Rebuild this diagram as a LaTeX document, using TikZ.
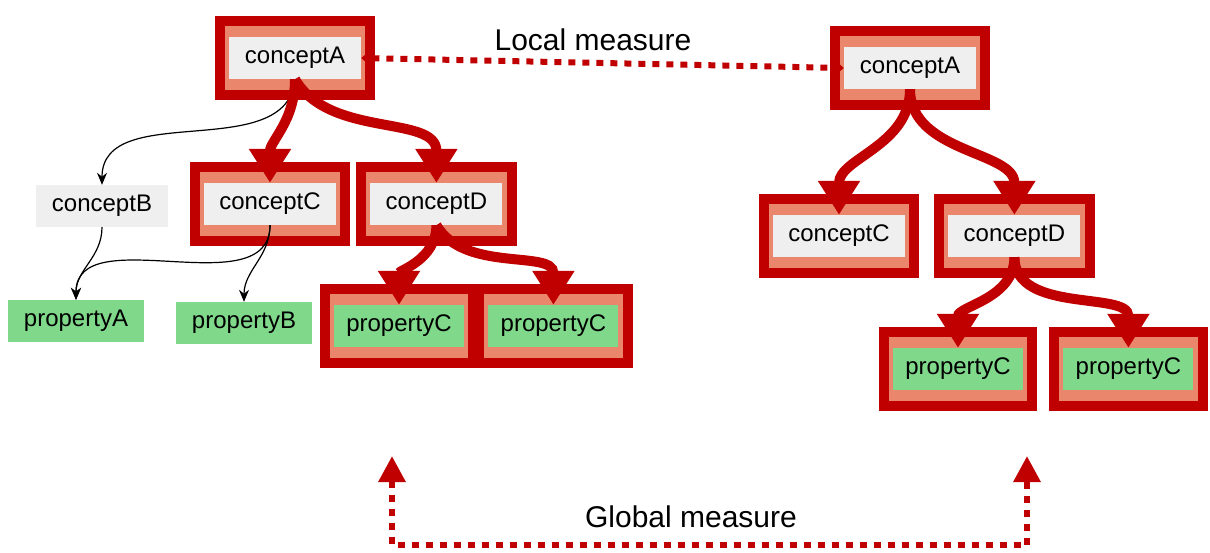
\documentclass[tikz,border=0pt]{standalone}
\usepackage{fontspec}
\setmainfont{Liberation Sans}
\usepackage{xcolor}
\usetikzlibrary{arrows.meta,positioning,fit,backgrounds}
\definecolor{hlred}{HTML}{C00000}
\definecolor{salmon}{HTML}{E9866C}
\definecolor{cgrey}{HTML}{EFEFEF}
\definecolor{pgreen}{HTML}{80D88A}

\begin{document}
\begin{tikzpicture}[
    x=1pt, y=-1pt,
    cnode/.style={fill=cgrey, minimum width=132pt, minimum height=42pt, inner sep=0pt, font=\fontsize{24}{28}\selectfont},
    pnode/.style={cnode, fill=pgreen, minimum width=130pt},
    hlframe/.style={fill=salmon, draw=hlred, line width=10pt, inner xsep=9pt, inner ysep=16pt},
    hop/.style={-{Triangle[length=34pt, width=40pt]}, draw=hlred, line width=10pt},
    link/.style={-{Stealth[length=12pt, width=10pt]}, line width=1.2pt},
    measure/.style={hlred, line width=6pt, dash pattern=on 7pt off 7pt},
    mlabel/.style={font=\fontsize{30}{34}\selectfont}
  ]
    \useasboundingbox (0,0) rectangle (1210,552);

    \node[cnode] (cA) at (295,58) {conceptA};
    \node[cnode] (cB) at (102,206) {conceptB};
    \node[cnode] (cC) at (270,204) {conceptC};
    \node[cnode, right=34pt of cC] (cD) {conceptD};
    \node[pnode, minimum width=136pt] (pA) at (76,321) {propertyA};
    \node[pnode, minimum width=136pt] (pB) at (244,323) {propertyB};
    \node[pnode] (pC1) at (399,326) {propertyC};
    \node[pnode, right=24pt of pC1] (pC2) {propertyC};

    \node[cnode] (rA) at (910,68) {conceptA};
    \node[cnode] (rC) at (839,236) {conceptC};
    \node[cnode, right=43pt of rC] (rD) {conceptD};
    \node[pnode] (rP1) at (958,369) {propertyC};
    \node[pnode, right=40pt of rP1] (rP2) {propertyC};

    \node[mlabel] (locm) at (593,40) {Local measure};
    \node[mlabel] (globm) at (691,517) {Global measure};
    \coordinate (gl) at (392,456);
    \coordinate (gb) at (392,545);
    \coordinate (gr) at (1027,456);

    \begin{scope}[on background layer]
      \foreach \n in {cA,cC,cD,pC1,pC2,rA,rC,rD,rP1,rP2}
        \node[hlframe, fit=(\n)] (\n-f) {};
    \end{scope}

    \draw[link] (cA.south) to[out=-95,in=90] (cB.north);
    \draw[link] (cB.south) to[out=-90,in=90] (pA.north);
    \draw[link] (cC.south) to[out=-90,in=90] (pA.north);
    \draw[link] (cC.south) to[out=-90,in=90] (pB.north);

    \draw[hop] (cA.south) to[out=-90,in=90] (cC.north);
    \draw[hop] (cA.south) to[out=-60,in=90] (cD.north);
    \draw[hop] (cD.south) to[out=-90,in=90] (pC1.north);
    \draw[hop] (cD.south) to[out=-60,in=90] (pC2.north);
    \draw[hop] (rA.south) to[out=-90,in=90] (rC.north);
    \draw[hop] (rA.south) to[out=-90,in=90] (rD.north);
    \draw[hop] (rD.south) to[out=-90,in=90] (rP1.north);
    \draw[hop] (rD.south) to[out=-90,in=90] (rP2.north);

    \draw[measure, {Triangle[length=12pt, width=20pt]}-{Triangle[length=12pt, width=20pt]}] (cA.east) -- (rA.west);
    \draw[measure, {Triangle[length=26pt, width=26pt]}-{Triangle[length=26pt, width=26pt]}] (gl) -- (gb) -| (gr);
  \end{tikzpicture}
\end{document}
